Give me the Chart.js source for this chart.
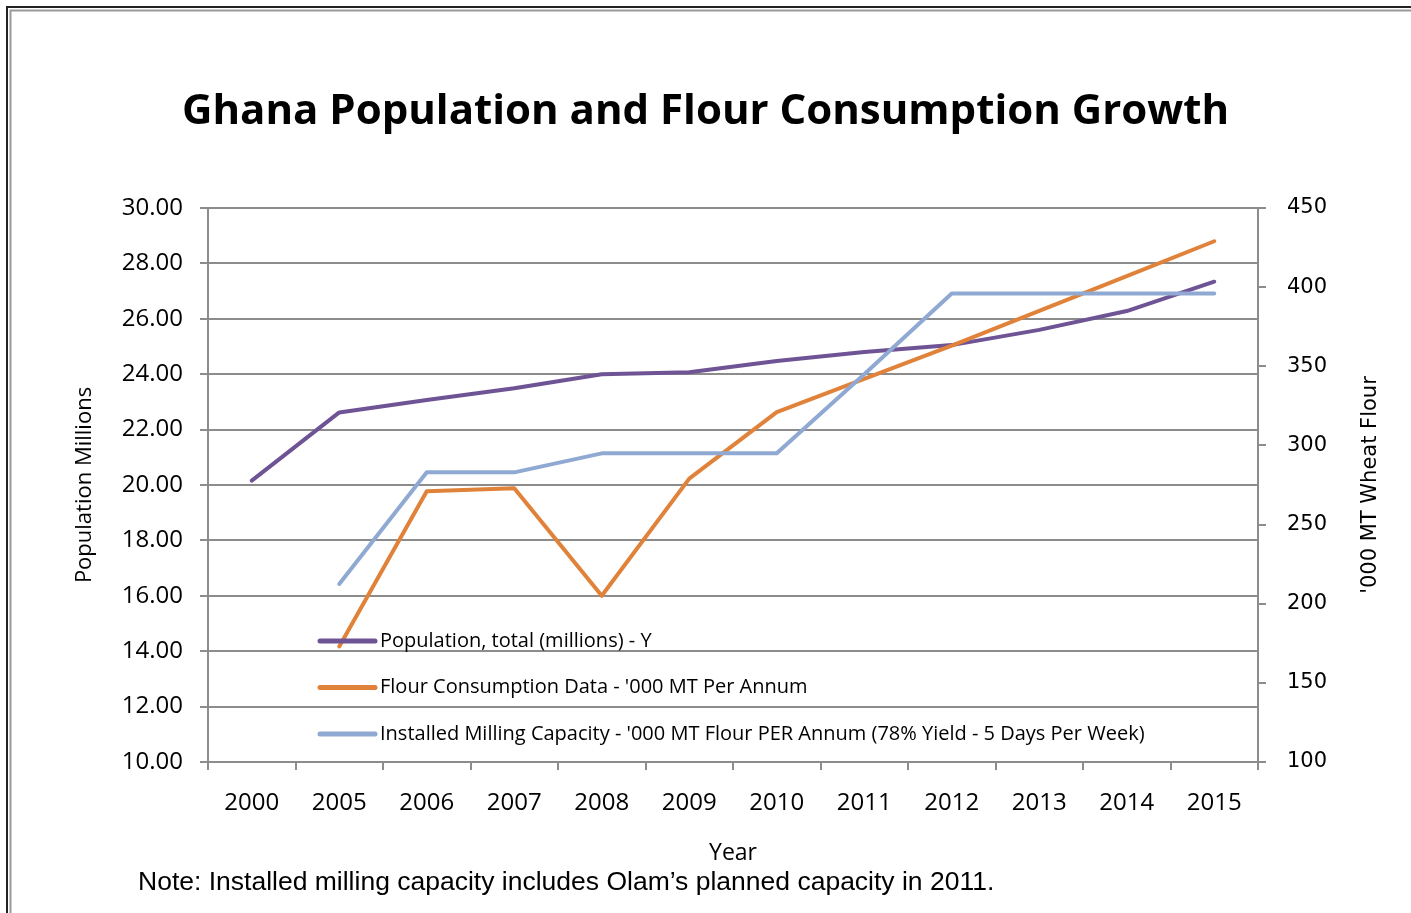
<!DOCTYPE html>
<html>
<head>
<meta charset="utf-8">
<script src="https://cdn.jsdelivr.net/npm/chart.js@4.4.0/dist/chart.umd.min.js"></script>
<style>
  html, body { margin: 0; padding: 0; background: #ffffff; }
  #wrap { width: 1411px; height: 913px; }
</style>
</head>
<body>
<div id="wrap"><canvas id="c" width="1411" height="913"></canvas></div>
<script>
// ---- data ----
const years = ['2000', '2005', '2006', '2007', '2008', '2009', '2010', '2011', '2012', '2013', '2014', '2015'];
const population = [20.16, 22.62, 23.07, 23.49, 24.0, 24.07, 24.48, 24.8, 25.05, 25.6, 26.28, 27.34];
const flourConsumption = [null, 173, 271, 273, 205, 279, 321, 342, 363, 385, 407, 429];
const millingCapacity = [null, 212.5, 283, 283, 295, 295, 295, 345, 396, 396, 396, 396];

const seriesNames = [
  'Population, total (millions) - Y',
  "Flour Consumption Data - '000 MT Per Annum",
  "Installed Milling Capacity - '000 MT Flour PER Annum (78% Yield - 5 Days Per Week)"
];
const titleText = 'Ghana Population and Flour Consumption Growth';
const leftAxisTitle = 'Population Millions';
const rightAxisTitle = "'000 MT Wheat Flour";
const xAxisTitle = 'Year';
const noteText = 'Note: Installed milling capacity includes Olam\u2019s planned capacity in 2011.';

const COLORS = ['#6f5495', '#e0823a', '#8fa9d2'];
const GRID = '#8c8c8c';

const framePlugin = {
  id: 'frame',
  beforeDraw(chart) {
    const ctx = chart.ctx;
    ctx.save();
    ctx.fillStyle = '#ffffff';
    ctx.fillRect(0, 0, chart.width, chart.height);
    ctx.lineWidth = 2;
    ctx.strokeStyle = '#222222';
    ctx.beginPath();
    ctx.moveTo(7, chart.height + 5); ctx.lineTo(7, 7); ctx.lineTo(chart.width + 5, 7);
    ctx.stroke();
    ctx.strokeStyle = '#9a9a9a';
    ctx.beginPath();
    ctx.moveTo(10.5, chart.height + 5); ctx.lineTo(10.5, 10.5); ctx.lineTo(chart.width + 5, 10.5);
    ctx.stroke();
    ctx.restore();
  }
};

const extrasPlugin = {
  id: 'extras',
  afterDatasetsDraw(chart) {
    const ctx = chart.ctx;
    const ca = chart.chartArea;
    ctx.save();
    // legend inside plot area
    const n = chart.data.datasets.length;
    chart.data.datasets.forEach((ds, i) => {
      const y = ca.bottom - 28 - (n - 1 - i) * 46.5;
      const x0 = ca.left + 112;
      ctx.strokeStyle = ds.borderColor;
      ctx.lineWidth = 5;
      ctx.lineCap = 'round';
      ctx.beginPath();
      ctx.moveTo(x0, y); ctx.lineTo(x0 + 55, y);
      ctx.stroke();
      ctx.fillStyle = '#000000';
      ctx.font = '20px "Open Sans"';
      ctx.textAlign = 'left';
      ctx.textBaseline = 'middle';
      ctx.fillText(ds.label, x0 + 60, y);
    });
    // right axis title, reading bottom to top
    ctx.translate(1371, (ca.top + ca.bottom) / 2);
    ctx.rotate(-Math.PI / 2);
    ctx.font = '21px "DejaVu Sans"';
    ctx.textAlign = 'center';
    ctx.textBaseline = 'middle';
    ctx.fillStyle = '#000000';
    ctx.fillText(rightAxisTitle, 0, 0);
    ctx.restore();
    // note
    ctx.save();
    ctx.font = '26.5px "Liberation Sans"';
    ctx.fillStyle = '#000000';
    ctx.textAlign = 'left';
    ctx.textBaseline = 'middle';
    ctx.fillText(noteText, 138, 883);
    ctx.restore();
  }
};

new Chart(document.getElementById('c'), {
  type: 'line',
  data: {
    labels: years,
    datasets: [
      { label: seriesNames[0], data: population, yAxisID: 'y', borderColor: COLORS[0], order: 3 },
      { label: seriesNames[1], data: flourConsumption, yAxisID: 'y1', borderColor: COLORS[1], order: 2 },
      { label: seriesNames[2], data: millingCapacity, yAxisID: 'y1', borderColor: COLORS[2], order: 1 }
    ]
  },
  options: {
    responsive: false,
    animation: false,
    devicePixelRatio: 1,
    layout: { padding: 0 },
    elements: {
      line: { borderWidth: 4, tension: 0, fill: false, borderJoinStyle: 'round', borderCapStyle: 'round' },
      point: { radius: 0, hoverRadius: 0 }
    },
    plugins: {
      legend: { display: false },
      tooltip: { enabled: false },
      title: {
        display: true,
        text: titleText,
        color: '#000000',
        font: { family: '"Open Sans"', size: 42, weight: 'bold', lineHeight: 1.2 },
        padding: { top: 87.3, bottom: 70.3 }
      }
    },
    scales: {
      x: {
        type: 'category',
        offset: true,
        grid: { display: true, drawOnChartArea: false, drawTicks: true, tickLength: 8, offset: true, color: GRID, lineWidth: 2 },
        border: { display: true, color: GRID, width: 2 },
        ticks: { color: '#000000', font: { family: '"Open Sans"', size: 24 }, padding: 19, maxRotation: 0, autoSkip: false },
        title: { display: true, text: xAxisTitle, color: '#000000', font: { family: '"Open Sans"', size: 23, lineHeight: 1.2 }, padding: { top: 0, bottom: 46 } },
        afterFit(s) { s.height = 151; }
      },
      y: {
        position: 'left',
        min: 10, max: 30,
        grid: { color: GRID, lineWidth: 2, tickLength: 8 },
        border: { display: true, color: GRID, width: 2 },
        ticks: { stepSize: 2, color: '#000000', font: { family: '"Open Sans"', size: 24 }, padding: 17,
                 callback: v => Number(v).toFixed(2) },
        title: { display: true, text: leftAxisTitle, color: '#000000', font: { family: '"Open Sans"', size: 22, lineHeight: 1.2 }, padding: { top: 72, bottom: 0 } },
        afterFit(s) { s.width = 208; }
      },
      y1: {
        position: 'right',
        min: 100, max: 450,
        grid: { drawOnChartArea: false, color: GRID, lineWidth: 2, tickLength: 8 },
        border: { display: true, color: GRID, width: 2 },
        ticks: { stepSize: 50, color: '#000000', font: { family: '"DejaVu Sans"', size: 21 }, padding: 21 },
        afterFit(s) { s.width = 153; }
      }
    }
  },
  plugins: [framePlugin, extrasPlugin]
});
</script>
</body>
</html>
